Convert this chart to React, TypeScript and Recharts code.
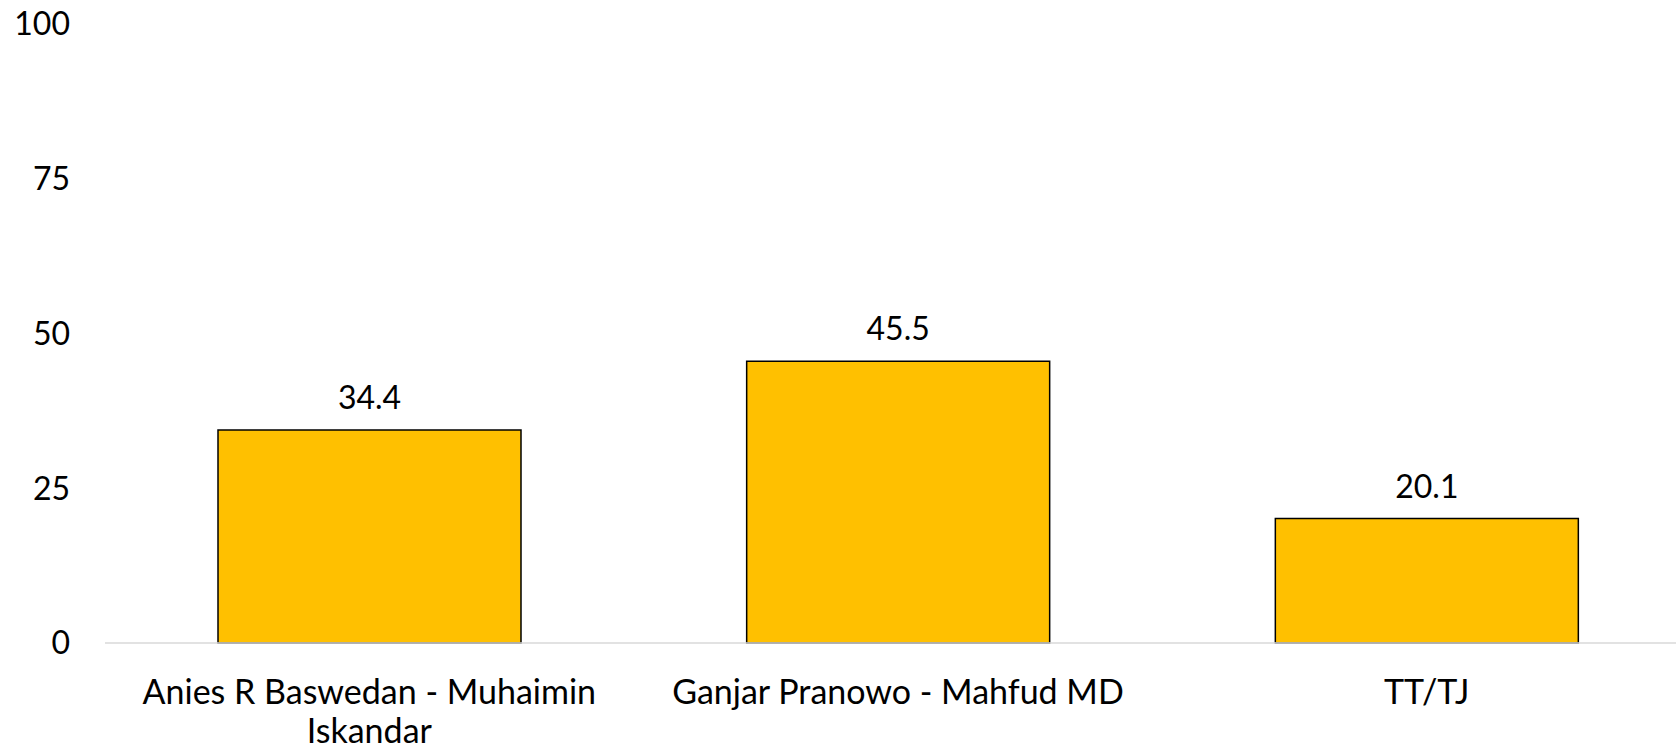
import { BarChart, Bar, XAxis, YAxis, LabelList } from "recharts";

const CANDIDATES = ["Anies R Baswedan - Muhaimin Iskandar", "Ganjar Pranowo - Mahfud MD", "TT/TJ"];
const VOTES = [34.4, 45.5, 20.1];
const Y_TICKS = [0, 25, 50, 75, 100];

const chartData = CANDIDATES.map((name, i) => ({ name, value: VOTES[i] }));

const FONT = "Lato, 'Open Sans', sans-serif";
const MAX_CHARS = 27;

// simple word wrap by character count
function wrap(label: string) {
  const lines: string[] = [];
  let cur = "";
  for (const w of label.split(" ")) {
    const next = cur ? cur + " " + w : w;
    if (next.length > MAX_CHARS && cur) {
      lines.push(cur);
      cur = w;
    } else {
      cur = next;
    }
  }
  if (cur) lines.push(cur);
  return lines;
}

function CategoryTick(props: any) {
  const { x, y, payload } = props;
  const lines = wrap(String(payload.value));
  return (
    <g>
      {lines.map((l, i) => (
        <text key={i} x={x} y={y + 61 + i * 38.5} textAnchor="middle" fontSize={34} fontFamily={FONT} fill="#000">
          {l}
        </text>
      ))}
    </g>
  );
}

export default function App() {
  return (
    <div style={{ position: "absolute", left: 0, top: 0, width: 1676, height: 752, overflow: "hidden", background: "#fff" }}>
      <BarChart
        width={1691}
        height={752}
        data={chartData}
        margin={{ top: 24, right: 0, bottom: 0, left: 0 }}
        barCategoryGap={113}
      >
        <YAxis
          width={105}
          domain={[0, 100]}
          ticks={Y_TICKS}
          axisLine={false}
          tickLine={false}
          tickSize={0}
          tickMargin={35}
          tick={{ fontSize: 32, fontFamily: FONT, fill: "#000" }}
        />
        <XAxis
          dataKey="name"
          height={109}
          axisLine={{ stroke: "#d9d9d9", strokeWidth: 1.5 }}
          tickLine={false}
          tickSize={0}
          tickMargin={0}
          interval={0}
          tick={<CategoryTick />}
        />
        <Bar dataKey="value" fill="#FFC000" stroke="#000" strokeWidth={1.5} isAnimationActive={false}>
          <LabelList
            dataKey="value"
            position="top"
            offset={21}
            style={{ fontSize: 32, fontFamily: FONT, fill: "#000" }}
          />
        </Bar>
      </BarChart>
    </div>
  );
}
